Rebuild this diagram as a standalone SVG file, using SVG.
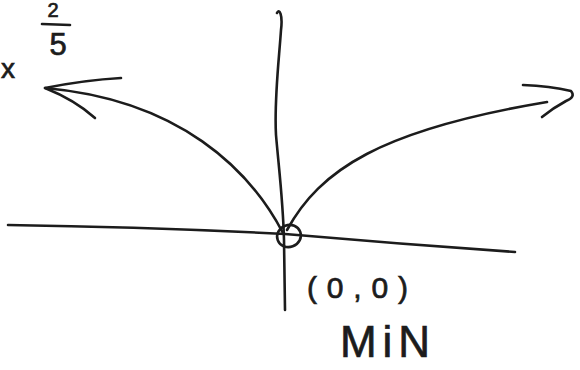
<svg xmlns="http://www.w3.org/2000/svg" width="580" height="370" viewBox="0 0 580 370">
<style>
.ink{fill:none;stroke:#1c1c1c;stroke-width:2.6;stroke-linecap:round;stroke-linejoin:round}
.hand{font-family:"Liberation Sans",Arial,sans-serif;fill:#1c1c1c;stroke:#1c1c1c;stroke-width:0.7}
</style>
<rect width="580" height="370" fill="#ffffff"/>
<g id="axes">
<path id="y-axis" class="ink" d="M277,13 C279,8 283,14 281,30 C279,60 274,100 276,135 C279,170 283,200 284,240 L285,310"/>
<path id="x-axis" class="ink" stroke-width="2.2" d="M8,225 Q150,227 285,234 Q400,244 515,252"/>
<ellipse id="origin" class="ink" cx="289" cy="236" rx="12" ry="11" transform="rotate(-20 289 236)"/>
</g>
<g id="connectors">
<path id="left-branch" class="ink" d="M283,233 C250,170 180,100 45,88"/>
<path id="left-head" class="ink" stroke-width="3" d="M121,78 Q85,80 45,88 Q75,100 95,118"/>
<path id="right-branch" class="ink" d="M287,230 C320,170 380,130 547,102"/>
<path id="right-head" class="ink" stroke-width="3" d="M523,85 Q550,86 571,91 Q576,97 566,101 Q553,108 542,117"/>
</g>
<g id="labels">
<text id="lbl-x" class="hand" x="1" y="78" font-size="28">x</text>
<g id="lbl-fraction">
<text class="hand" x="53" y="17" font-size="20" text-anchor="middle">2</text>
<path class="ink" d="M42,24 L70,25"/>
<text class="hand" x="58" y="55" font-size="31" text-anchor="middle">5</text>
</g>
<text id="lbl-origin" class="hand" x="307" y="298" font-size="30" textLength="101" lengthAdjust="spacing">(0,0)</text>
<text id="lbl-min" class="hand" x="340" y="357" font-size="44" textLength="90" lengthAdjust="spacing">MiN</text>
</g>
</svg>
